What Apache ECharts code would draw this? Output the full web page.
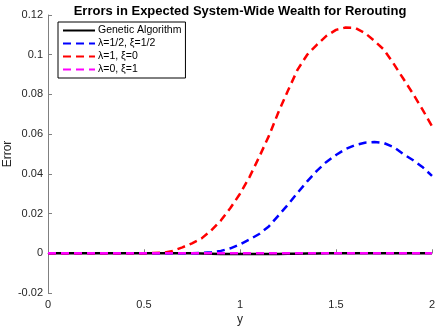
<!DOCTYPE html>
<html>
<head>
<meta charset="utf-8">
<script src="https://cdn.jsdelivr.net/npm/echarts@6/dist/echarts.min.js"></script>
<style>
  html, body { margin: 0; padding: 0; background: #fff; }
  #chart { width: 436px; height: 327px; }
</style>
</head>
<body>
<div id="chart"></div>
<script>
// x grid (y in the original plot)
var xs = [0, 0.05, 0.1, 0.15, 0.2, 0.25, 0.3, 0.35, 0.4, 0.45, 0.5, 0.55, 0.6, 0.65, 0.7, 0.75, 0.8, 0.85, 0.9, 0.95,
          1.0, 1.05, 1.1, 1.15, 1.2, 1.25, 1.3, 1.35, 1.4, 1.45, 1.5, 1.55, 1.6, 1.65, 1.7, 1.75, 1.8, 1.85, 1.9, 1.95, 2.0];

var gaErr = [0, 0, 0, 0, 0, 0, 0, 0, 0, 0, 0, 0, 0, 0, 0, 0, -0.0001, -0.0002, -0.0003, -0.0004,
             -0.0004, -0.0004, -0.0004, -0.0003, -0.0003, -0.0002, -0.0002, -0.0001, -0.0001, 0, 0, 0, 0, 0, 0, 0, 0, 0, 0, 0, 0];

var halfErr = [0, 0, 0, 0, 0, 0, 0, 0, 0, 0, 0, 0, 0, 0, 0, 0, 0.0002, 0.0005, 0.0012, 0.0025,
               0.0045, 0.007, 0.0097, 0.0135, 0.019, 0.0245, 0.0305, 0.0362, 0.0415, 0.046, 0.0495, 0.0525, 0.0545, 0.0557, 0.056, 0.0555, 0.0535, 0.050, 0.047, 0.0435, 0.039];

var lam1Err = [0, 0, 0, 0, 0, 0, 0, 0, 0, 0, 0, 0.0001, 0.0003, 0.0012, 0.003, 0.005, 0.0075, 0.0115, 0.0165, 0.0228,
               0.030, 0.0385, 0.0485, 0.059, 0.071, 0.082, 0.0925, 0.100, 0.105, 0.1095, 0.1125, 0.1137, 0.1135, 0.111, 0.107, 0.1025, 0.0955, 0.088, 0.0805, 0.0725, 0.064];

var lam0Err = [0, 0, 0, 0, 0, 0, 0, 0, 0, 0, 0, 0, 0, 0, 0, 0, 0, 0, 0, 0,
               0, 0, 0, 0, 0, 0, 0, 0, 0, 0, 0, 0, 0, 0, 0, 0, 0, 0, 0, 0, 0];

var names = ['Genetic Algorithm', 'λ=1/2, ξ=1/2', 'λ=1, ξ=0', 'λ=0, ξ=1'];
var colors = ['#000000', '#0000ff', '#ff0000', '#ff00ff'];

function pairs(vals) {
  return xs.map(function (x, i) { return [x, vals[i]]; });
}

var chart = echarts.init(document.getElementById('chart'));
var font = 'Liberation Sans, Arial, sans-serif';
var axisGray = '#262626';

function mkSeries(name, vals, color, dashed) {
  return {
    name: name,
    type: 'line',
    data: pairs(vals),
    showSymbol: false,
    symbol: 'none',
    lineStyle: { color: color, width: 2.5, type: dashed ? [8, 5] : 'solid' },
    itemStyle: { color: color }
  };
}

var option = {
  animation: false,
  textStyle: { fontFamily: font },
  title: {
    text: 'Errors in Expected System-Wide Wealth for Rerouting',
    left: 235,
    textAlign: 'center',
    top: 0,
    textStyle: { fontSize: 13, fontWeight: 'bold', color: '#000', fontFamily: font }
  },
  legend: {
    left: 58,
    top: 22,
    orient: 'vertical',
    backgroundColor: '#fff',
    borderColor: '#000',
    borderWidth: 1,
    borderRadius: 0,
    padding: [3, 4, 3, 4],
    itemGap: 2,
    itemWidth: 32,
    itemHeight: 11,
    itemStyle: { opacity: 0 },
    textStyle: { fontSize: 10.5, color: '#000', fontFamily: font, padding: [0, 0, 0, -2] },
    data: names
  },
  grid: { left: 48, right: 4, top: 15, bottom: 34, outerBoundsMode: 'none' },
  xAxis: {
    type: 'value',
    min: 0,
    max: 2,
    interval: 0.5,
    name: 'y',
    nameLocation: 'middle',
    nameGap: 21,
    nameMoveOverlap: false,
    nameTextStyle: { fontSize: 12, color: axisGray },
    axisLine: { lineStyle: { color: '#808080', width: 1 } },
    axisTick: { inside: true, length: 4, lineStyle: { color: '#808080' } },
    axisLabel: { fontSize: 11, color: axisGray, margin: 6 },
    splitLine: { show: false }
  },
  yAxis: {
    type: 'value',
    min: -0.02,
    max: 0.12,
    interval: 0.02,
    name: 'Error',
    nameLocation: 'middle',
    nameGap: 34,
    nameMoveOverlap: false,
    nameTextStyle: { fontSize: 12, color: axisGray },
    axisLine: { show: true, lineStyle: { color: '#808080', width: 1 } },
    axisTick: { show: true, inside: true, length: 4, lineStyle: { color: '#808080' } },
    axisLabel: {
      fontSize: 11, color: axisGray, margin: 5,
      formatter: function (v) { return String(parseFloat(v.toFixed(2))); }
    },
    splitLine: { show: false }
  },
  series: [
    mkSeries(names[0], gaErr, colors[0], false),
    mkSeries(names[1], halfErr, colors[1], true),
    mkSeries(names[2], lam1Err, colors[2], true),
    mkSeries(names[3], lam0Err, colors[3], true)
  ]
};

chart.setOption(option);
</script>
</body>
</html>
